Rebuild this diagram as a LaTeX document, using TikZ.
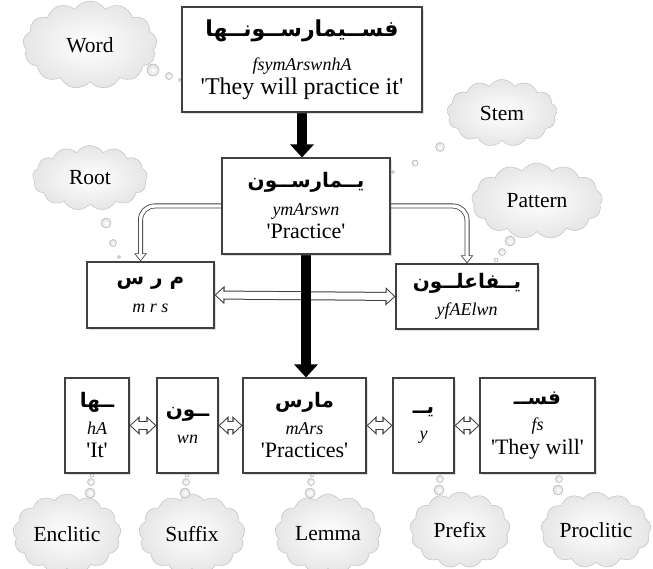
\documentclass[tikz,border=0pt]{standalone}
\usepackage{fontspec}
\setmainfont{Liberation Serif}
\newfontfamily\arfont[Script=Arabic]{DejaVu Sans}
\TeXXeTstate=1
\usetikzlibrary{shapes.symbols,arrows.meta,shadows,backgrounds}

\newcommand{\arab}[1]{{\arfont\bfseries\fontsize{20}{24}\selectfont\beginR #1\endR}}
\newcommand{\translit}[1]{{\itshape\fontsize{18}{21}\selectfont #1}}
\newcommand{\gloss}[1]{{\fontsize{22}{25}\selectfont\textquotesingle #1\textquotesingle}}

\tikzset{
  morph/.style={draw=black!75, line width=1.1pt, fill=white, align=center, inner sep=2pt,
    drop shadow={shadow xshift=2pt, shadow yshift=-2pt, opacity=0.25},
    font=\fontsize{18}{23.5}\selectfont},
  thought/.style={cloud, cloud puffs=13, cloud puff arc=115, cloud ignores aspect,
    draw=gray!55, inner color=white, outer color=gray!20, inner sep=0pt,
    font=\fontsize{21.5}{25}\selectfont},
  bubble/.style={circle, draw=gray!60, inner color=white, outer color=gray!25,
    inner sep=0pt, line width=0.5pt},
  bigarrow/.style={line width=10pt, -{Triangle[width=23pt,length=13pt]}},
  % hollow double-headed arrow: dark outline, white inside
  dblarrow/.style={line width=9pt, black!75,
    {Triangle[width=18pt,length=10pt]}-{Triangle[width=18pt,length=10pt]},
    postaction={draw, white, line width=7pt, shorten <=1.5pt, shorten >=1.5pt,
      {Triangle[width=13pt,length=7.3pt]}-{Triangle[width=13pt,length=7.3pt]}}},
  % hollow bent arrow
  bendarrow/.style={line width=5pt, black!75, rounded corners=14pt,
    -{Triangle[width=12pt,length=8pt]},
    postaction={draw, white, line width=3.4pt, shorten >=1.33pt,
      -{Triangle[width=8.8pt,length=5.9pt]}}},
}

\begin{document}
\begin{tikzpicture}[x=1pt, y=-1pt]
  \useasboundingbox (0,0) rectangle (653,569);

  % thought clouds
  \node[thought, minimum width=134pt, minimum height=88pt] (cword) at (90,45) {Word};
  \node[thought, minimum width=115pt, minimum height=65pt] (croot) at (90,178) {Root};
  \node[thought, minimum width=110pt, minimum height=67pt] (cstem) at (502,113) {Stem};
  \node[thought, minimum width=131pt, minimum height=76pt] (cpattern) at (537,201) {Pattern};
  \node[thought, minimum width=108pt, minimum height=80pt] (cenclitic) at (67,534) {Enclitic};
  \node[thought, minimum width=106pt, minimum height=80pt] (csuffix) at (192,534) {Suffix};
  \node[thought, minimum width=106pt, minimum height=80pt] (clemma) at (328,534) {Lemma};
  \node[thought, minimum width=100pt, minimum height=76pt] (cprefix) at (460,530) {Prefix};
  \node[thought, minimum width=110pt, minimum height=76pt] (cproclitic) at (596,530) {Proclitic};

  % bubbles
  \node[bubble, minimum size=12pt] (bword1) at (153,70) {};
  \node[bubble, minimum size=7pt] (bword2) at (169,76) {};
  \node[bubble, minimum size=3pt] (bword3) at (180,80) {};
  \node[bubble, minimum size=10pt] (broot1) at (106,223) {};
  \node[bubble, minimum size=7pt] (broot2) at (113,243) {};
  \node[bubble, minimum size=3pt] (broot3) at (119,257) {};
  \node[bubble, minimum size=9pt] (bstem1) at (440,147) {};
  \node[bubble, minimum size=6pt] (bstem2) at (415,163) {};
  \node[bubble, minimum size=3pt] (bstem3) at (393,172) {};
  \node[bubble, minimum size=10pt] (bpattern1) at (510,241) {};
  \node[bubble, minimum size=7pt] (bpattern2) at (502,252) {};
  \node[bubble, minimum size=4pt] (bpattern3) at (496,260) {};
  \foreach \x/\y/\n in {90/493/enclitic, 185/493/suffix, 310/493/lemma, 439/490/prefix, 558/490/proclitic} {
    \node[bubble, minimum size=10pt] (b\n1) at (\x,\y) {};
    \node[bubble, minimum size=7pt] (b\n2) at (\x+1,\y-11) {};
    \node[bubble, minimum size=4pt] (b\n3) at (\x+2,\y-18) {};
  }

  % morpheme boxes
  \node[morph, minimum width=240pt, minimum height=105pt] (word) at (302,59.5)
    {{\arfont\bfseries\fontsize{22}{26}\selectfont\beginR فســيمارســونــها\endR}\\[11pt]
     \translit{fsymArswnhA}\\ {\fontsize{24}{25}\selectfont\textquotesingle They will practice it\textquotesingle}};
  \node[morph, minimum width=168pt, minimum height=96pt] (stem) at (306,206)
    {\arab{يــمارســون}\\[4pt] \translit{ymArswn}\\ \gloss{Practice}};
  \node[morph, minimum width=127pt, minimum height=66pt] (root) at (150.5,295)
    {\arab{م ر س}\\[4pt] \translit{m r s}};
  \node[morph, minimum width=142pt, minimum height=65pt] (pattern) at (467,296.5)
    {\arab{يــفاعلــون}\\[4pt] \translit{yfAElwn}};
  \node[morph, minimum width=64pt, minimum height=95pt] (enclitic) at (97,425.5)
    {\arab{ــها}\\[3pt] \translit{hA}\\ \gloss{It}};
  \node[morph, minimum width=61pt, minimum height=95pt] (suffix) at (187.5,425.5)
    {\arab{ــون}\\[3pt] \translit{wn}};
  \node[morph, minimum width=123pt, minimum height=95pt] (lemma) at (304.5,425.5)
    {\arab{مارس}\\[3pt] \translit{mArs}\\ \gloss{Practices}};
  \node[morph, minimum width=61pt, minimum height=95pt] (prefix) at (423.5,425.5)
    {\arab{يــ}\\[3pt] \translit{y}};
  \node[morph, minimum width=115pt, minimum height=95pt] (proclitic) at (537.5,425.5)
    {\arab{فســ}\\[3pt] \translit{fs}\\ \gloss{They will}};

  % connectors
  \begin{scope}[on background layer]
    \draw[bendarrow] (stem.west) -| ([xshift=-10pt]root.north);
    \draw[bendarrow] (stem.east) -| (pattern.north);
    \draw[dblarrow] (root.east) -- (pattern.west);
    \draw[dblarrow] (enclitic.east) -- (suffix.west);
    \draw[dblarrow] (suffix.east) -- (lemma.west);
    \draw[dblarrow] (lemma.east) -- (prefix.west);
    \draw[dblarrow] (prefix.east) -- (proclitic.west);
    \draw[bigarrow] (word.south) -- (word.south |- stem.north);
    \draw[bigarrow] (stem.south) -- (stem.south |- lemma.north);
  \end{scope}
\end{tikzpicture}
\end{document}
